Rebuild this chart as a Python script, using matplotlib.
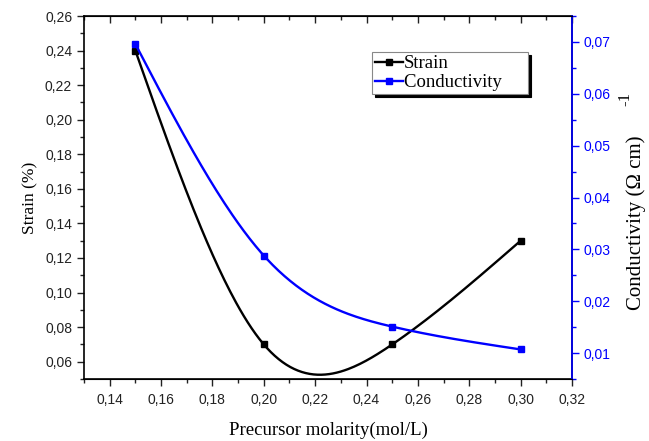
import numpy as np
import matplotlib
matplotlib.use("Agg")
import matplotlib.pyplot as plt
from matplotlib.ticker import MultipleLocator, FuncFormatter

molarity = [0.15, 0.20, 0.25, 0.30]
strain = [0.24, 0.07, 0.07, 0.13]
conductivity = [0.0696, 0.0288, 0.0151, 0.0107]


def natural_spline(x, y, n=200):
    # natural cubic spline, like the smoothed line in the original plot
    x = np.asarray(x, float)
    y = np.asarray(y, float)
    k = len(x)
    h = np.diff(x)
    A = np.zeros((k, k))
    b = np.zeros(k)
    A[0, 0] = 1
    A[-1, -1] = 1
    for i in range(1, k - 1):
        A[i, i - 1] = h[i - 1]
        A[i, i] = 2 * (h[i - 1] + h[i])
        A[i, i + 1] = h[i]
        b[i] = 6 * ((y[i + 1] - y[i]) / h[i] - (y[i] - y[i - 1]) / h[i - 1])
    M = np.linalg.solve(A, b)
    xs = np.linspace(x[0], x[-1], n)
    idx = np.clip(np.searchsorted(x, xs) - 1, 0, k - 2)
    hi = h[idx]
    t1 = x[idx + 1] - xs
    t0 = xs - x[idx]
    ys = (M[idx] * t1 ** 3 + M[idx + 1] * t0 ** 3) / (6 * hi) \
        + (y[idx] / hi - M[idx] * hi / 6) * t1 \
        + (y[idx + 1] / hi - M[idx + 1] * hi / 6) * t0
    return xs, ys


def comma(v, pos):
    return ("%.2f" % v).replace(".", ",")


plt.rcParams["font.family"] = ["Liberation Sans", "DejaVu Sans"]

fig = plt.figure(figsize=(6.49, 4.41), dpi=100)
ax = fig.add_axes([0.1294, 0.1406, 0.7520, 0.8231])
ax2 = ax.twinx()

xs, ys = natural_spline(molarity, strain)
ax.plot(xs, ys, color="black", lw=1.7)
ax.plot(molarity, strain, "s", color="black", ms=5)

xs, ys = natural_spline(molarity, conductivity)
ax2.plot(xs, ys, color="blue", lw=1.7)
ax2.plot(molarity, conductivity, "s", color="blue", ms=5)

ax.set_xlim(0.13, 0.32)
ax.set_ylim(0.05, 0.26)
ax2.set_ylim(0.005, 0.075)

ax.xaxis.set_major_locator(MultipleLocator(0.02))
ax.xaxis.set_minor_locator(MultipleLocator(0.01))
ax.yaxis.set_major_locator(MultipleLocator(0.02))
ax.yaxis.set_minor_locator(MultipleLocator(0.01))
ax2.yaxis.set_major_locator(MultipleLocator(0.01))
ax2.yaxis.set_minor_locator(MultipleLocator(0.005))
ax.xaxis.set_major_formatter(FuncFormatter(comma))
ax.yaxis.set_major_formatter(FuncFormatter(comma))
ax2.yaxis.set_major_formatter(FuncFormatter(comma))

ax.tick_params(axis="x", which="both", top=True, direction="out", labelsize=10,
               colors="#222222", pad=5)
ax.tick_params(axis="x", which="major", length=5, width=1)
ax.tick_params(axis="x", which="minor", length=3, width=1)
ax.tick_params(axis="y", which="both", direction="out", labelsize=10, colors="#222222")
ax.tick_params(axis="y", which="major", length=5, width=1)
ax.tick_params(axis="y", which="minor", length=3, width=1)
ax2.tick_params(axis="y", which="both", direction="out", labelsize=10, colors="blue")
ax2.tick_params(axis="y", which="major", length=5, width=1)
ax2.tick_params(axis="y", which="minor", length=3, width=1)
# top ticks point inwards
for t in ax.xaxis.get_major_ticks() + ax.xaxis.get_minor_ticks():
    t.tick2line.set_marker(matplotlib.markers.TICKDOWN)

for s in ax.spines.values():
    s.set_linewidth(1.2)
ax2.spines["right"].set_color("blue")
ax2.spines["right"].set_linewidth(1.2)
ax2.spines["left"].set_visible(False)

serif = ["Liberation Serif", "DejaVu Serif"]
ax.set_xlabel("Precursor molarity(mol/L)", family=serif, fontsize=13.5, labelpad=11)
ax.set_ylabel("Strain (%)", family=serif, fontsize=12.5, labelpad=5)
# right label with a full-size superscript, as in the original
ax2.text(1.131, 0.43, "Conductivity (\u03a9 cm)", transform=ax2.transAxes,
         rotation=90, ha="center", va="center", family=serif, fontsize=15)
ax2.text(1.110, 0.772, "-1", transform=ax2.transAxes,
         rotation=90, ha="center", va="center", family=serif, fontsize=12)

h1 = plt.Line2D([], [], color="black", lw=1.7, marker="s", ms=4.5)
h2 = plt.Line2D([], [], color="blue", lw=1.7, marker="s", ms=4.5)
leg = ax2.legend([h1, h2], ["Strain", "Conductivity     "], loc="upper left",
                 bbox_to_anchor=(0.59, 0.90), frameon=True, fancybox=False,
                 shadow={"color": "black", "alpha": 1.0}, edgecolor="#888888",
                 prop={"family": serif, "size": 13.5}, handlelength=1.5,
                 handletextpad=0.05, borderpad=0.15, labelspacing=0.1,
                 borderaxespad=0)
leg.get_frame().set_linewidth(0.8)

fig.savefig("out.png", dpi=100)
